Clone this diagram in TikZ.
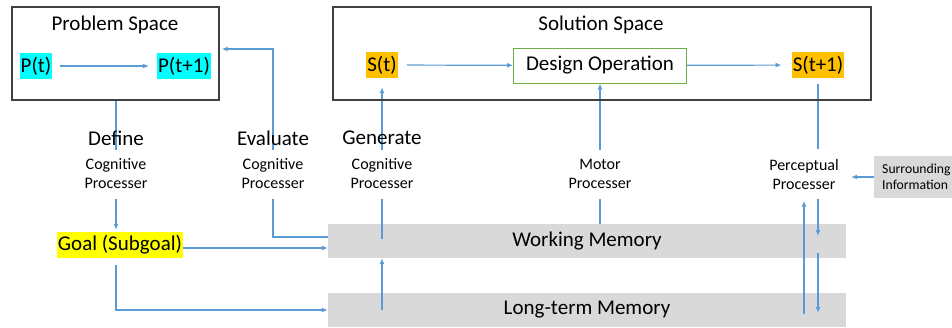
\documentclass[tikz,border=0pt]{standalone}
\usepackage{fontspec}
\setmainfont{Carlito}
\usetikzlibrary{arrows.meta, calc}

\definecolor{wire}{HTML}{5B9BD5}
\definecolor{memgray}{HTML}{D9D9D9}
\definecolor{hlcyan}{HTML}{00FFFF}
\definecolor{hlorange}{HTML}{FFC000}
\definecolor{hlyellow}{HTML}{FFFF00}
\definecolor{opgreen}{HTML}{70AD47}
\definecolor{frame}{HTML}{404040}

\pgfdeclarelayer{bg}
\pgfdeclarelayer{wires}
\pgfsetlayers{bg,wires,main}

\begin{document}
\begin{tikzpicture}[x=1pt, y=-1pt,
	big/.style={font=\fontsize{21}{25}\selectfont},
	small/.style={font=\fontsize{16}{19}\selectfont, align=center},
	spacebox/.style={draw=frame, line width=1.3pt},
	hl/.style={big, inner xsep=1pt, inner ysep=0pt, minimum height=26pt},
	proc/.style={small, fill=white, minimum width=80pt, minimum height=49pt, inner sep=0pt},
	mem/.style={big, fill=memgray, minimum width=518pt, minimum height=34pt},
	wireline/.style={draw=wire, line width=1.2pt},
	arrow/.style={wireline, -{Latex[length=6pt, width=5pt]}}]
	\clip (0,0) rectangle (952,327);

	% the two spaces
	\node (PS)  at (115.5,53.5) [spacebox, minimum width=207pt, minimum height=93pt] {};
	\node (SS)  at (602,53.5)   [spacebox, minimum width=538pt, minimum height=93pt] {};
	\node (PSt) at (115,25)     [big] {Problem Space};
	\node (SSt) at (601,25)     [big] {Solution Space};

	\node (P1)  at (36,66)      [hl, fill=hlcyan] {P(t)};
	\node (P2)  at (184,66)     [hl, fill=hlcyan] {P(t+1)};
	\node (S1)  at (382,65)     [hl, fill=hlorange] {S(t)};
	\node (S2)  at (818,65)     [hl, fill=hlorange] {S(t+1)};
	\node (Des) at (600,65.5)   [big, draw=opgreen, line width=0.9pt, minimum width=173pt, minimum height=35pt] {Design Operation};

	% processors
	\node (DefL) at (116,138)   [big] {Define};
	\node (EvaL) at (273,138)   [big] {Evaluate};
	\node (GenL) at (382,138)   [big] {Generate};
	\node (DefP) at (116,174)   [proc] {Cognitive\\Processer};
	\node (EvaP) at (273,174)   [proc] {Cognitive\\Processer};
	\node (GenP) at (382,174)   [proc] {Cognitive\\Processer};
	\node (MotP) at (600,174)   [proc] {Motor\\Processer};
	\node (PerP) at (804,174)   [proc] {Perceptual\\Processer};
	\node (Sur)  at (874,177)   [anchor=west, fill=memgray, minimum height=42pt, text width=84pt, inner xsep=8pt, align=left, font=\fontsize{13.7}{16}\selectfont] {Surrounding\\Information};

	\node (Goal) at (120,245)   [hl, fill=hlyellow] {Goal (Subgoal)};

	% memories
	\begin{pgfonlayer}{bg}
		\node (WM)  at (587,241) [mem] {Working Memory};
		\node (LTM) at (587,310) [mem] {Long-term Memory};
	\end{pgfonlayer}

	\coordinate (evtop) at (273,49);

	% Draw the arrows between the nodes
	\begin{pgfonlayer}{wires}
		\draw[arrow, shorten <=7pt, shorten >=8pt] (P1) -- (P2);
		\draw[arrow, shorten <=9pt] (S1) -- (Des);
		\draw[arrow, shorten >=10pt] (Des) -- (S2);
		\draw[arrow, shorten >=2pt] (PS.south -| DefP) -- (Goal.north -| DefP);
		\draw[arrow] ([yshift=-3pt]Goal.east) -- ([yshift=-3pt]Goal.east -| WM.west);
		\draw[arrow, shorten <=7pt] (Goal.south -| DefP) |- (LTM.west);
		\draw[arrow, shorten >=2pt] ([yshift=4pt]WM.west) -| (evtop) -- (evtop -| PS.east);
		\draw[arrow] (LTM.center -| GenP) -- (WM.south -| GenP);
		\draw[arrow, shorten >=9pt] ([yshift=2pt]WM.center -| GenP) -- (S1.south);
		\draw[arrow] (WM.north -| MotP) -- (Des.south);
		\draw[wireline, shorten <=6pt] (S2.south) -- (S2.south |- PerP.north);
		\draw[arrow] (PerP.south -| S2) -- ($(WM.center -| S2)+(0,-5)$);
		\draw[arrow] ($(WM.south -| S2)+(0,-5)$) -- ($(LTM.center -| S2)+(0,3)$);
		\draw[arrow, shorten >=2pt] ($(LTM.center -| PerP)+(0,4)$) -- (PerP.south);
		\draw[arrow] (Sur.west) -- ++(-23,0);
	\end{pgfonlayer}
\end{tikzpicture}
\end{document}
